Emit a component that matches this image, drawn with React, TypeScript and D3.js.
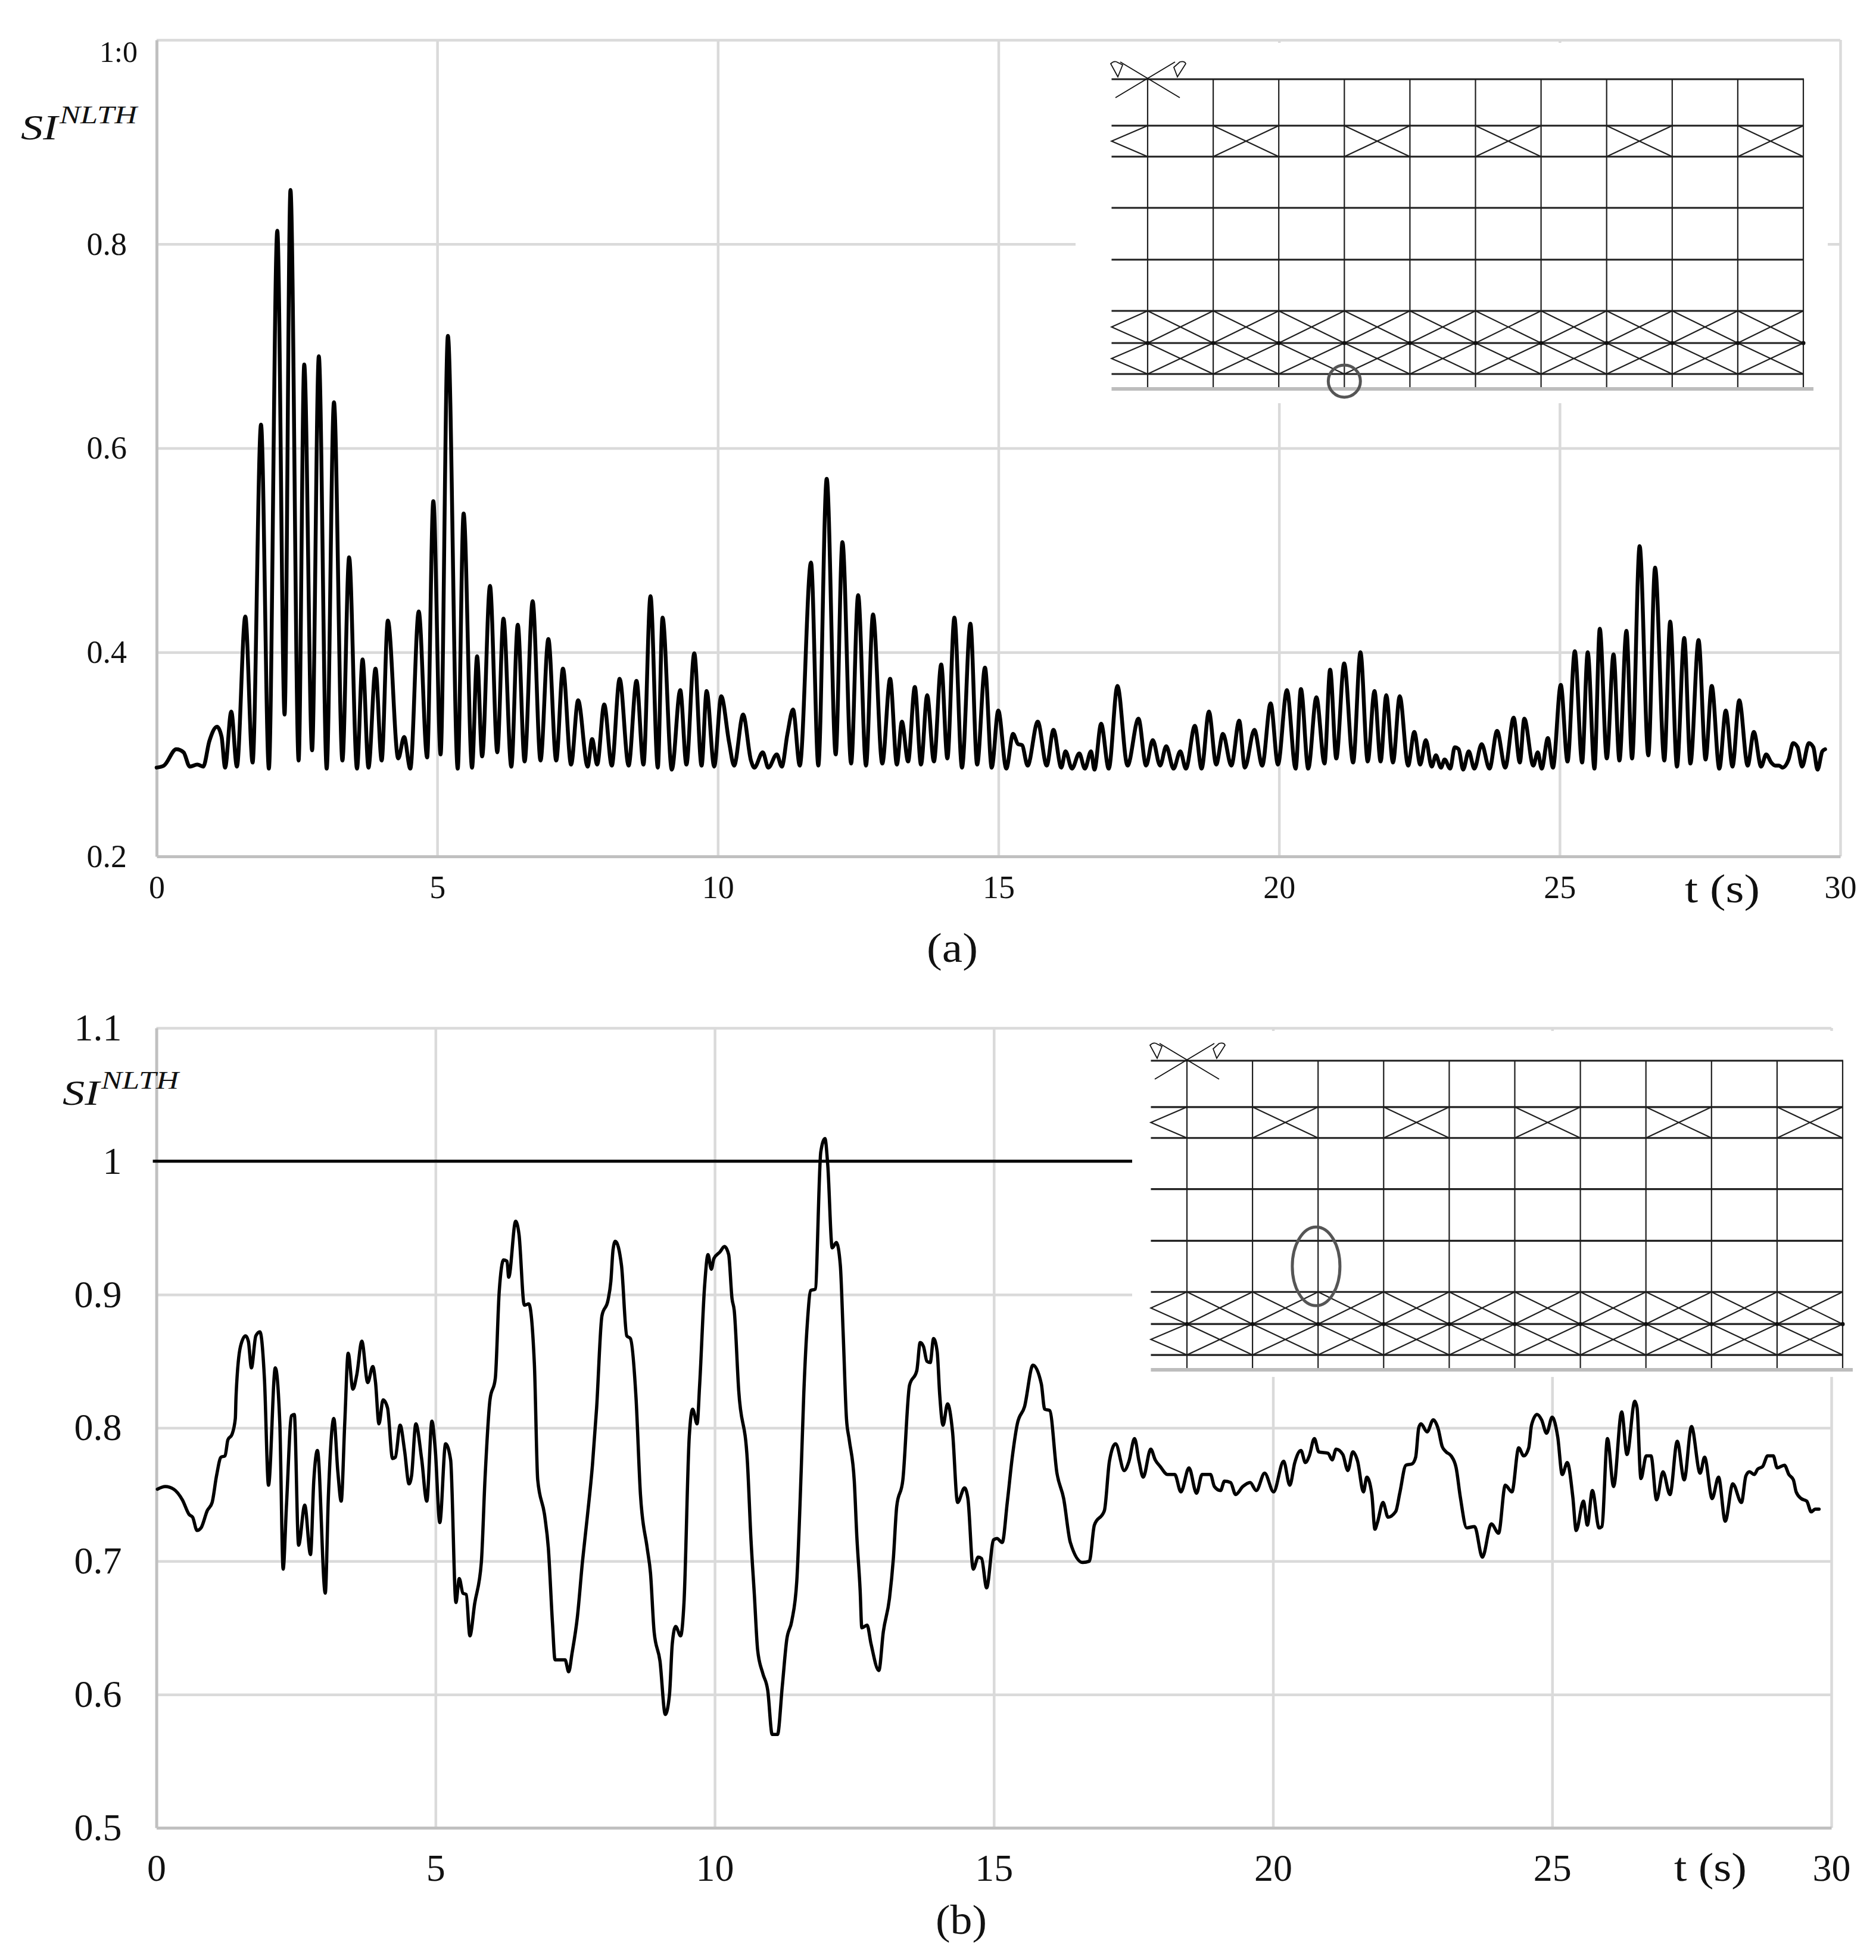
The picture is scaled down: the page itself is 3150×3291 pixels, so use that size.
import React, { useEffect, useRef } from 'react';
import * as d3 from 'd3';

// SI(NLTH) time history, panel (a): [t, SI]
const seriesA: [number, number][] = [
  [0, .287], [.13, .289], [.35, .305], [.48, .302], [.59, .288], [.725, .29], [.83, .288], [.94, .313], [1.077, .327], [1.158, .317],
  [1.22, .287], [1.33, .342], [1.43, .288], [1.58, .435], [1.71, .292], [1.86, .623], [2.0, .286], [2.15, .813], [2.28, .339], [2.385, .853],
  [2.53, .294], [2.63, .682], [2.77, .304], [2.89, .69], [3.03, .286], [3.16, .645], [3.31, .294], [3.43, .493], [3.57, .286], [3.67, .393],
  [3.775, .287], [3.9, .384], [4.01, .294], [4.12, .431], [4.305, .296], [4.41, .317], [4.52, .286], [4.67, .44], [4.82, .297], [4.93, .548],
  [5.06, .3], [5.19, .71], [5.365, .286], [5.47, .536], [5.62, .287], [5.71, .396], [5.8, .298], [5.94, .465], [6.07, .302], [6.18, .433],
  [6.32, .288], [6.435, .427], [6.557, .293], [6.7, .45], [6.84, .294], [6.98, .413], [7.12, .294], [7.24, .384], [7.385, .29], [7.51, .353],
  [7.68, .288], [7.76, .315], [7.85, .29], [7.975, .349], [8.11, .289], [8.25, .374], [8.41, .289], [8.55, .372], [8.675, .29], [8.8, .455],
  [8.93, .287], [9.015, .434], [9.18, .285], [9.33, .363], [9.44, .29], [9.58, .399], [9.71, .289], [9.8, .362], [9.935, .288], [10.06, .357],
  [10.2, .312], [10.29, .289], [10.45, .339], [10.59, .294], [10.65, .287], [10.8, .302], [10.9, .287], [11.05, .3], [11.14, .288], [11.24, .32],
  [11.34, .344], [11.46, .289], [11.66, .488], [11.79, .289], [11.94, .57], [12.1, .3], [12.22, .508], [12.375, .291], [12.5, .456], [12.64, .289],
  [12.765, .437], [12.93, .291], [13.07, .374], [13.19, .29], [13.28, .332], [13.39, .293], [13.51, .366], [13.62, .29], [13.73, .358], [13.85, .293],
  [13.98, .388], [14.09, .296], [14.215, .434], [14.35, .287], [14.5, .428], [14.62, .29], [14.76, .385], [14.88, .287], [14.997, .343], [15.14, .286],
  [15.26, .32], [15.35, .31], [15.42, .309], [15.52, .289], [15.7, .332], [15.86, .289], [15.98, .324], [16.12, .287], [16.195, .303], [16.31, .286],
  [16.44, .301], [16.54, .286], [16.65, .303], [16.71, .285], [16.83, .33], [16.965, .286], [17.12, .367], [17.3, .289], [17.495, .335], [17.63, .289],
  [17.75, .314], [17.88, .289], [17.99, .308], [18.12, .286], [18.24, .303], [18.34, .286], [18.5, .328], [18.62, .286], [18.75, .342], [18.88, .29],
  [19.0, .32], [19.15, .289], [19.29, .333], [19.39, .287], [19.56, .324], [19.7, .289], [19.85, .35], [19.98, .29], [20.14, .363], [20.295, .286],
  [20.39, .364], [20.52, .286], [20.665, .356], [20.81, .291], [20.91, .383], [21.02, .296], [21.16, .389], [21.32, .292], [21.45, .4], [21.58, .293],
  [21.7, .362], [21.81, .293], [21.91, .358], [22.03, .292], [22.15, .357], [22.3, .289], [22.41, .322], [22.515, .29], [22.615, .314], [22.72, .288],
  [22.795, .299], [22.885, .287], [22.95, .295], [23.05, .286], [23.13, .307], [23.2, .305], [23.28, .285], [23.38, .303], [23.48, .286], [23.61, .31],
  [23.75, .286], [23.885, .323], [24.03, .287], [24.18, .336], [24.29, .292], [24.37, .335], [24.53, .289], [24.61, .302], [24.68, .286], [24.79, .316],
  [24.88, .287], [25.02, .368], [25.14, .293], [25.27, .401], [25.4, .292], [25.5, .4], [25.62, .286], [25.715, .423], [25.84, .296], [25.96, .398],
  [26.065, .294], [26.19, .421], [26.29, .296], [26.425, .504], [26.58, .299], [26.7, .483], [26.865, .294], [26.97, .43], [27.09, .288], [27.22, .414],
  [27.33, .291], [27.475, .412], [27.6, .295], [27.71, .367], [27.845, .286], [27.96, .343], [28.08, .288], [28.2, .353], [28.35, .289], [28.46, .322],
  [28.59, .288], [28.68, .3], [28.77, .292], [28.84, .289], [28.91, .289], [28.97, .287], [29.08, .295], [29.16, .311], [29.24, .307], [29.32, .288],
  [29.44, .311], [29.52, .307], [29.595, .285], [29.68, .303], [29.73, .305],
];

// SI(NLTH) time history, panel (b): [t, SI]
const seriesB: [number, number][] = [
  [.018, .754], [.159, .756], [.31, .754], [.465, .746], [.587, .735], [.649, .733], [.728, .723], [.8, .725], [.912, .738], [.998, .744],
  [1.077, .764], [1.157, .778], [1.23, .779], [1.28, .791], [1.353, .795], [1.414, .807], [1.426, .823], [1.506, .861], [1.598, .869], [1.647, .865],
  [1.702, .845], [1.781, .869], [1.855, .872], [1.935, .837], [2.008, .757], [2.13, .845], [2.21, .804], [2.27, .694], [2.33, .742], [2.42, .809],
  [2.47, .81], [2.547, .712], [2.657, .742], [2.76, .705], [2.82, .761], [2.884, .783], [3.025, .676], [3.08, .748], [3.178, .807], [3.25, .767],
  [3.31, .745], [3.374, .804], [3.435, .856], [3.52, .829], [3.59, .84], [3.68, .865], [3.785, .834], [3.876, .846], [3.925, .834], [3.986, .803],
  [4.06, .821], [4.14, .815], [4.23, .777], [4.28, .778], [4.366, .802], [4.445, .783], [4.525, .758], [4.57, .764], [4.647, .803], [4.75, .777],
  [4.843, .745], [4.935, .805], [4.996, .783], [5.076, .729], [5.18, .788], [5.27, .776], [5.365, .669], [5.425, .687], [5.49, .676], [5.55, .675],
  [5.615, .644], [5.7, .668], [5.82, .699], [5.885, .761], [5.975, .821], [6.07, .837], [6.14, .902], [6.22, .926], [6.28, .925], [6.31, .913],
  [6.435, .955], [6.495, .945], [6.59, .892], [6.67, .893], [6.77, .848], [6.83, .761], [6.955, .734], [7.02, .71], [7.095, .653], [7.14, .626],
  [7.32, .626], [7.385, .617], [7.445, .631], [7.54, .658], [7.63, .699], [7.72, .734], [7.81, .772], [7.885, .815], [7.98, .884], [8.09, .896],
  [8.14, .91], [8.18, .934], [8.22, .94], [8.33, .922], [8.425, .869], [8.49, .867], [8.59, .823], [8.67, .75], [8.79, .71], [8.85, .691],
  [8.915, .647], [9.02, .625], [9.115, .585], [9.19, .6], [9.24, .638], [9.3, .651], [9.39, .644], [9.45, .669], [9.545, .794], [9.605, .814],
  [9.685, .803], [9.73, .832], [9.82, .907], [9.88, .93], [9.94, .919], [9.985, .927], [10.095, .932], [10.175, .936], [10.25, .93], [10.31, .897],
  [10.35, .888], [10.43, .828], [10.585, .775], [10.65, .716], [10.71, .675], [10.77, .633], [10.86, .616], [10.95, .603], [11.03, .57], [11.125, .57],
  [11.21, .606], [11.29, .641], [11.38, .655], [11.47, .685], [11.55, .769], [11.595, .825], [11.66, .879], [11.72, .903], [11.8, .904], [11.9, 1.007],
  [11.975, 1.017], [12.025, .997], [12.105, .935], [12.18, .939], [12.25, .922], [12.3, .872], [12.36, .807], [12.41, .791], [12.5, .76], [12.545, .719],
  [12.605, .678], [12.635, .65], [12.73, .652], [12.8, .638], [12.94, .618], [13.02, .647], [13.13, .672], [13.2, .702], [13.26, .741], [13.37, .761],
  [13.49, .832], [13.62, .843], [13.68, .864], [13.74, .861], [13.8, .85], [13.86, .849], [13.92, .867], [13.985, .857], [14.03, .825], [14.09, .802],
  [14.17, .818], [14.26, .797], [14.35, .744], [14.475, .755], [14.535, .747], [14.63, .694], [14.72, .703], [14.78, .702], [14.87, .68], [14.995, .716],
  [15.055, .717], [15.15, .714], [15.24, .744], [15.33, .778], [15.42, .803], [15.55, .816], [15.7, .847], [15.85, .833], [15.91, .814], [16.0, .813],
  [16.13, .766], [16.25, .747], [16.37, .714], [16.59, .699], [16.71, .7], [16.8, .727], [16.98, .738], [17.07, .775], [17.18, .788], [17.335, .768],
  [17.42, .775], [17.52, .792], [17.6, .775], [17.675, .763], [17.81, .784], [17.89, .776], [17.98, .771], [18.11, .765], [18.24, .765], [18.35, .752],
  [18.495, .77], [18.63, .751], [18.73, .765], [18.88, .765], [18.95, .756], [19.06, .753], [19.13, .76], [19.24, .759], [19.33, .75], [19.46, .756],
  [19.59, .759], [19.7, .753], [19.85, .766], [20.01, .752], [20.19, .775], [20.3, .757], [20.39, .774], [20.5, .783], [20.58, .774], [20.65, .779],
  [20.74, .792], [20.82, .782], [20.985, .781], [21.06, .776], [21.13, .784], [21.25, .78], [21.34, .768], [21.43, .782], [21.515, .775], [21.62, .752],
  [21.68, .763], [21.77, .75], [21.825, .724], [21.87, .729], [21.97, .744], [22.06, .733], [22.2, .7375], [22.27, .751], [22.38, .772], [22.49, .773],
  [22.555, .778], [22.61, .8], [22.65, .803], [22.76, .797], [22.87, .806], [22.96, .799], [23.03, .786], [23.1, .782], [23.19, .779], [23.28, .77],
  [23.355, .748], [23.47, .725], [23.61, .726], [23.75, .703], [23.91, .728], [24.04, .721], [24.16, .757], [24.28, .752], [24.4, .785], [24.49, .779],
  [24.58, .785], [24.63, .802], [24.73, .81], [24.81, .806], [24.9, .796], [25.0, .808], [25.1, .793], [25.18, .765], [25.27, .774], [25.37, .748],
  [25.43, .723], [25.56, .745], [25.63, .727], [25.72, .753], [25.84, .725], [25.89, .726], [25.99, .792], [26.1, .756], [26.245, .812], [26.34, .78],
  [26.48, .82], [26.52, .815], [26.59, .762], [26.685, .779], [26.77, .779], [26.87, .746], [26.985, .767], [27.11, .75], [27.24, .79], [27.365, .761],
  [27.495, .801], [27.65, .766], [27.73, .778], [27.865, .747], [27.98, .763], [28.1, .73], [28.235, .758], [28.39, .744], [28.47, .764], [28.535, .767],
  [28.62, .765], [28.68, .769], [28.77, .771], [28.86, .779], [28.96, .779], [29.03, .77], [29.16, .772], [29.24, .765], [29.32, .761], [29.37, .752],
  [29.46, .747], [29.56, .745], [29.64, .737], [29.71, .739], [29.78, .739],
];

const timeTicks = [0, 5, 10, 15, 20, 25, 30];
const siTicksA = [0.2, 0.4, 0.6, 0.8, 1.0];
const siLabelsA = ['0.2', '0.4', '0.6', '0.8', '1:0'];
const siTicksB = [0.5, 0.6, 0.7, 0.8, 0.9, 1.0, 1.1];
const siLabelsB = ['0.5', '0.6', '0.7', '0.8', '0.9', '1', '1.1'];

// frame sketch in the insets: storey levels (same units as the drawing) and braced bays
const storeyLevels = [25, 77, 131, 217, 304, 390, 442, 520];
const columnCount = 11;
const outriggerBays = [1, 3, 5, 7, 9];
const SERIF = '"Liberation Serif", "Times New Roman", serif';
const GRID = '#dadada';
const AXIS = '#c0c0c0';
const INK = '#1f1f1f';

function drawInset(g, cfg) {
  const bay = d3.scaleLinear().domain([0, columnCount - 1]).range([cfg.col0, cfg.col10]);
  const lvl = d3.scaleLinear().domain([0, 520]).range([cfg.ground, cfg.roof]);
  const left = bay(-0.55);
  const right = bay(columnCount - 1);

  // mask over the chart grid
  g.append('rect')
    .attr('x', cfg.mask[0]).attr('y', cfg.mask[1])
    .attr('width', cfg.mask[2] - cfg.mask[0]).attr('height', cfg.mask[3] - cfg.mask[1])
    .attr('fill', '#fff');

  g.selectAll('.floor').data(storeyLevels).enter().append('line')
    .attr('class', 'floor')
    .attr('x1', left).attr('x2', right + 1)
    .attr('y1', d => lvl(d)).attr('y2', d => lvl(d))
    .attr('stroke', INK).attr('stroke-width', 3.2);

  g.selectAll('.col').data(d3.range(columnCount)).enter().append('line')
    .attr('class', 'col')
    .attr('x1', d => bay(d)).attr('x2', d => bay(d))
    .attr('y1', lvl(0)).attr('y2', lvl(520))
    .attr('stroke', INK).attr('stroke-width', 2.2);

  const brace = (x0, x1, lo, hi) => {
    g.append('line').attr('x1', x0).attr('x2', x1).attr('y1', lvl(lo)).attr('y2', lvl(hi)).attr('stroke', INK).attr('stroke-width', 2.2);
    g.append('line').attr('x1', x0).attr('x2', x1).attr('y1', lvl(hi)).attr('y2', lvl(lo)).attr('stroke', INK).attr('stroke-width', 2.2);
  };
  const halfBrace = (lo, hi) => {
    const mid = (lo + hi) / 2;
    g.append('path')
      .attr('d', `M${bay(0)},${lvl(hi)}L${left},${lvl(mid)}L${bay(0)},${lvl(lo)}`)
      .attr('fill', 'none').attr('stroke', INK).attr('stroke-width', 2.2);
  };

  outriggerBays.forEach(b => brace(bay(b), bay(b + 1), 390, 442));
  halfBrace(390, 442);
  [[25, 77], [77, 131]].forEach(([lo, hi]) => {
    d3.range(columnCount - 1).forEach(b => brace(bay(b), bay(b + 1), lo, hi));
    halfBrace(lo, hi);
  });

  g.selectAll('.node').data(d3.range(columnCount)).enter().append('circle')
    .attr('class', 'node').attr('cx', d => bay(d)).attr('cy', lvl(77)).attr('r', 3.5).attr('fill', '#111');

  // ground
  g.append('line').attr('x1', left).attr('x2', right + 17).attr('y1', lvl(0)).attr('y2', lvl(0))
    .attr('stroke', '#bdbdbd').attr('stroke-width', 6);

  // X mark with the two pointers above the first column
  const mark = g.append('g').attr('transform', `translate(${bay(0)},${lvl(520)})`)
    .attr('fill', 'none').attr('stroke', '#111').attr('stroke-width', 1.8);
  mark.append('path').attr('d', 'M-54,31L46,-29M54,31L-46,-29');
  mark.append('path').attr('d', 'M-50,-4L-62,-26Q-56,-32-50,-28L-42,-24Z').attr('fill', '#fff');
  mark.append('path').attr('d', 'M50,-4L44,-20L54,-29Q62,-31 64,-26Z').attr('fill', '#fff');

  // member highlighted
  g.append('ellipse')
    .attr('cx', bay(cfg.ring[0])).attr('cy', lvl(cfg.ring[1]))
    .attr('rx', cfg.ring[2]).attr('ry', cfg.ring[3])
    .attr('fill', 'none').attr('stroke', '#555').attr('stroke-width', 5);
}

function drawPanel(svg, cfg) {
  const x = d3.scaleLinear().domain([0, 30]).range([cfg.left, cfg.right]);
  const y = d3.scaleLinear().domain(cfg.yDomain).range([cfg.bottom, cfg.top]);
  const panel = svg.append('g');

  // grid comes from the axes' long ticks
  const gridX = panel.append('g').attr('transform', `translate(0,${cfg.bottom})`)
    .call(d3.axisBottom(x).tickValues(timeTicks.slice(1)).tickSize(cfg.top - cfg.bottom).tickSizeOuter(0).tickFormat(() => ''));
  const gridY = panel.append('g').attr('transform', `translate(${cfg.left},0)`)
    .call(d3.axisLeft(y).tickValues(cfg.yTicks.slice(1)).tickSize(cfg.left - cfg.right).tickSizeOuter(0).tickFormat(() => ''));
  [gridX, gridY].forEach(a => {
    a.select('.domain').remove();
    a.selectAll('line').attr('stroke', GRID).attr('stroke-width', 4.5);
  });

  drawInset(panel.append('g'), cfg.inset);

  // axis lines + labels
  const axX = panel.append('g').attr('transform', `translate(0,${cfg.bottom})`)
    .call(d3.axisBottom(x).tickValues(timeTicks).tickSize(0).tickPadding(cfg.padX).tickFormat(d3.format('d')));
  const axY = panel.append('g').attr('transform', `translate(${cfg.left},0)`)
    .call(d3.axisLeft(y).tickValues(cfg.yTicks).tickSize(0).tickPadding(cfg.padY).tickFormat((d, i) => cfg.yLabels[i]));
  [axX, axY].forEach(a => {
    a.select('.domain').attr('stroke', AXIS).attr('stroke-width', 5);
    a.selectAll('text').attr('font-family', SERIF).attr('font-size', cfg.fontSize).attr('fill', '#111');
  });
  if (cfg.tweakY) cfg.tweakY(axY);

  if (cfg.refLine) {
    panel.append('line')
      .attr('x1', x(0) - 6).attr('x2', cfg.refLine.end)
      .attr('y1', y(cfg.refLine.value)).attr('y2', y(cfg.refLine.value))
      .attr('stroke', '#000').attr('stroke-width', 5);
  }

  const line = d3.line().x(d => x(d[0])).y(d => y(d[1])).curve(d3.curveMonotoneX);
  panel.append('path').datum(cfg.series)
    .attr('fill', 'none').attr('stroke', '#000')
    .attr('stroke-width', cfg.lineWidth).attr('stroke-linejoin', 'round').attr('stroke-linecap', 'round')
    .attr('d', line);

  // y title: SI with superscript NLTH
  const title = panel.append('g').attr('transform', `translate(${cfg.titleAt[0]},${cfg.titleAt[1]})`)
    .attr('font-family', SERIF).attr('font-style', 'italic').attr('fill', '#111');
  title.append('text').attr('x', 0).attr('y', 0).attr('font-size', 60)
    .attr('textLength', 62).attr('lengthAdjust', 'spacingAndGlyphs').text('SI');
  title.append('text').attr('x', 65).attr('y', -27).attr('font-size', 42)
    .attr('textLength', 130).attr('lengthAdjust', 'spacingAndGlyphs').text('NLTH');

  panel.append('text').attr('x', cfg.tLabel[0]).attr('y', cfg.tLabel[1])
    .attr('font-family', SERIF).attr('font-size', 68).attr('fill', '#111')
    .attr('textLength', cfg.tLabel[2]).attr('lengthAdjust', 'spacingAndGlyphs').text('t (s)');
  panel.append('text').attr('x', cfg.caption[0]).attr('y', cfg.caption[1]).attr('text-anchor', 'middle')
    .attr('font-family', SERIF).attr('font-size', 70).attr('fill', '#111')
    .attr('textLength', 86).attr('lengthAdjust', 'spacingAndGlyphs').text(cfg.caption[2]);
}

function App() {
  const ref = useRef();

  useEffect(() => {
    const svg = d3.select(ref.current);
    svg.selectAll('*').remove();
    svg.append('rect').attr('width', 3150).attr('height', 3291).attr('fill', '#fff');

    drawPanel(svg, {
      series: seriesA, yDomain: [0.2, 1.0], yTicks: siTicksA, yLabels: siLabelsA,
      left: 263, right: 3090, top: 67, bottom: 1438,
      padX: 32, padY: 50, fontSize: 54, lineWidth: 6.5,
      titleAt: [35, 234], tLabel: [2829, 1515, 126], caption: [1599, 1615, '(a)'],
      tweakY: ax => ax.selectAll('text').filter((d) => d === 1.0).attr('x', -32).attr('dy', '0.72em').attr('font-size', 50),
      inset: { col0: 1927, col10: 3028, ground: 653, roof: 133, mask: [1806, 72, 3069, 677], ring: [3, 13, 27, 27] },
    });

    drawPanel(svg, {
      series: seriesB, yDomain: [0.5, 1.1], yTicks: siTicksB, yLabels: siLabelsB,
      left: 262.6, right: 3075, top: 1726, bottom: 3069,
      padX: 44, padY: 58, fontSize: 64, lineWidth: 5.5,
      titleAt: [105, 1855], tLabel: [2811, 3158, 122], caption: [1614, 3247, '(b)'],
      refLine: { value: 1, end: 1901 },
      inset: { col0: 1993, col10: 3094, ground: 2300, roof: 1781, mask: [1901, 1731, 3120, 2312], ring: [1.97, 174, 40, 66] },
    });
  }, []);

  return <svg ref={ref} width={3150} height={3291} style={{ position: 'absolute', left: 0, top: 0 }} />;
}

export default App;
